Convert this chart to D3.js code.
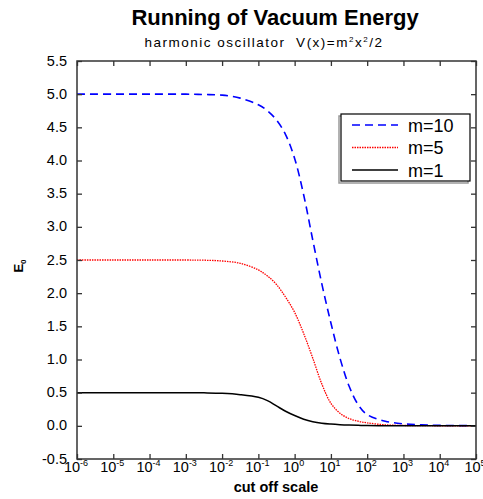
<!DOCTYPE html>
<html><head><meta charset="utf-8">
<script src="https://cdn.jsdelivr.net/npm/d3@7"></script>
<style>body{margin:0;background:#fff}svg{display:block;font-family:"Liberation Sans",Arial,sans-serif}</style>
</head><body>
<svg id="c" width="483" height="499"></svg>
<script>
// cut-off scale as powers of ten
const cutoffExp = [-6,-5,-4,-3,-2.5,-2,-1.5,-1,-0.75,-0.5,-0.25,0,0.25,0.5,0.75,1,1.25,1.5,1.75,2,2.5,3,3.5,4,5];
const e0_m10 = [5.0,5.0,5.0,5.0,4.995,4.985,4.94,4.84,4.75,4.61,4.39,4.03,3.48,2.80,2.14,1.55,1.02,0.60,0.32,0.17,0.07,0.03,0.015,0.007,0.002];
const e0_m5  = [2.5,2.5,2.5,2.5,2.497,2.485,2.45,2.35,2.26,2.13,1.94,1.71,1.39,1.02,0.63,0.34,0.19,0.11,0.07,0.045,0.015,0.006,0.003,0.001,0.0];
const e0_m1  = [0.5,0.5,0.5,0.5,0.497,0.49,0.47,0.43,0.38,0.30,0.22,0.155,0.10,0.063,0.04,0.027,0.018,0.012,0.008,0.005,0.002,0.001,0.0005,0.0,0.0];
const seriesNames = ["m=10","m=5","m=1"];
const xTickExp = [-6,-5,-4,-3,-2,-1,0,1,2,3,4,5];
const yTicks = [-0.5,0,0.5,1,1.5,2,2.5,3,3.5,4,4.5,5,5.5];

const svg = d3.select("#c");
const L=77,R=476,T=61,B=459;
const x = d3.scaleLog().domain([1e-6,1e5]).range([L,R]);
const y = d3.scaleLinear().domain([-0.5,5.5]).range([B,T]);

svg.append("text").attr("x",275).attr("y",25).attr("text-anchor","middle")
  .attr("font-size",22).attr("font-weight","bold").text("Running of Vacuum Energy");
const st = svg.append("text").attr("x",264).attr("y",47).attr("text-anchor","middle").attr("font-size",13.5).attr("letter-spacing",1.5);
st.append("tspan").text("harmonic oscillator\u00a0\u00a0V(x)=m");
st.append("tspan").attr("font-size",8).attr("dy",-5).text("2");
st.append("tspan").attr("dy",5).text("x");
st.append("tspan").attr("font-size",8).attr("dy",-5).text("2");
st.append("tspan").attr("dy",5).text("/2");

svg.append("defs").append("clipPath").attr("id","clip").append("rect")
  .attr("x",L).attr("y",T).attr("width",R-L).attr("height",B-T);

const styles = [
  {d:e0_m10, color:"#0000ff", dash:"8,5", w:1.6},
  {d:e0_m5, color:"#ff0000", dash:"1.5,1", w:1.3},
  {d:e0_m1, color:"#000000", dash:null, w:1.5}
];
const line = d3.line().x(d=>x(Math.pow(10,d[0]))).y(d=>y(d[1])).curve(d3.curveCatmullRom.alpha(0.5));
const g = svg.append("g").attr("clip-path","url(#clip)");
styles.forEach(s=>{
  g.append("path").datum(cutoffExp.map((e,i)=>[e,s.d[i]]))
   .attr("d",line).attr("fill","none").attr("stroke",s.color)
   .attr("stroke-width",s.w).attr("stroke-dasharray",s.dash);
});

// axes with inward ticks
const ax = "#333";
const xb = svg.append("g").attr("transform",`translate(0,${B})`)
  .call(d3.axisTop(x).tickValues(xTickExp.map(e=>Math.pow(10,e))).tickSize(5).tickFormat(""));
const xt = svg.append("g").attr("transform",`translate(0,${T})`)
  .call(d3.axisBottom(x).tickValues(xTickExp.map(e=>Math.pow(10,e))).tickSize(5).tickFormat(""));
const yl = svg.append("g").attr("transform",`translate(${L},0)`)
  .call(d3.axisRight(y).tickValues(yTicks).tickSize(5).tickFormat(""));
const yr = svg.append("g").attr("transform",`translate(${R},0)`)
  .call(d3.axisLeft(y).tickValues(yTicks).tickSize(5).tickFormat(""));
[xb,xt,yl,yr].forEach(a=>{a.select(".domain").remove();a.selectAll("line").attr("stroke",ax).attr("stroke-width",1.3);});
svg.append("rect").attr("x",L).attr("y",T).attr("width",R-L).attr("height",B-T)
  .attr("fill","none").attr("stroke",ax).attr("stroke-width",1.5);

// y tick labels
svg.append("g").selectAll("text").data(yTicks).join("text")
  .attr("x",67).attr("y",d=>y(d)+4.5).attr("text-anchor","end").attr("font-size",14.5)
  .text(d=>d3.format(".1f")(d).replace("\u2212","-"));
// x tick labels
xTickExp.forEach(e=>{
  const t = svg.append("text").attr("x",x(Math.pow(10,e))-1).attr("y",472).attr("text-anchor","middle").attr("font-size",14.5);
  t.append("tspan").text("10");
  t.append("tspan").attr("font-size",9).attr("dy",-6).text(String(e));
});
svg.append("text").attr("x",276).attr("y",492).attr("text-anchor","middle").attr("font-size",14.5).attr("font-weight","bold").text("cut off scale");
const yt = svg.append("text").attr("transform","translate(23,266) rotate(-90)").attr("text-anchor","middle").attr("font-size",13).attr("font-weight","bold");
yt.append("tspan").text("E");
yt.append("tspan").attr("font-size",8).attr("dy",3).text("0");

// legend
const lg = svg.append("g");
lg.append("rect").attr("x",339).attr("y",116).attr("width",129).attr("height",67).attr("fill","none").attr("stroke","#999").attr("stroke-width",1.5);
lg.append("rect").attr("x",341).attr("y",114).attr("width",129).attr("height",67).attr("fill","#fff").attr("stroke","#000").attr("stroke-width",1.2);
seriesNames.forEach((n,i)=>{
  const yy = 125 + i*22.5;
  lg.append("line").attr("x1",352).attr("x2",398).attr("y1",yy).attr("y2",yy)
    .attr("stroke",styles[i].color).attr("stroke-width",styles[i].w).attr("stroke-dasharray",styles[i].dash);
  lg.append("text").attr("x",408).attr("y",yy+6.5).attr("font-size",18).text(n);
});
</script>
</body></html>
